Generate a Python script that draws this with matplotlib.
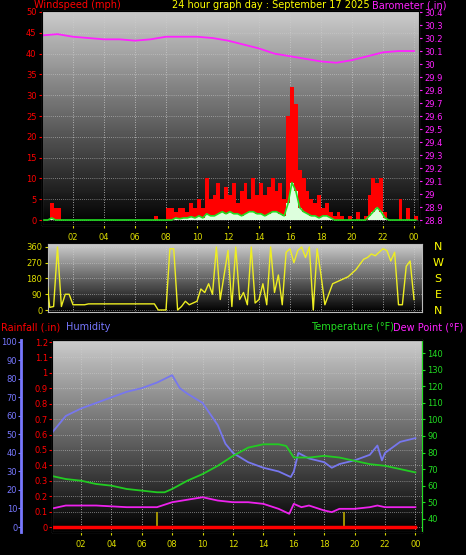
import numpy as np
import matplotlib
matplotlib.use("Agg")
import matplotlib.pyplot as plt

W, H = 466, 555
# ---------------- data ----------------
baro_h = [0,1,2,3,4,5,6,7,8,9,10,11,12,13,14,15,16,17,18,19,20,21,22,23,24]
baro = [30.22,30.23,30.21,30.20,30.19,30.19,30.18,30.19,30.21,30.21,30.21,30.20,30.18,30.15,30.12,30.08,30.06,30.04,30.02,30.01,30.03,30.06,30.09,30.10,30.10]

gust = [0,0,4,3, 3,0,0,0] + [0]*20 + [0,1,0,0, 3,3,2,3, 3,2,4,3, 5,3,10,5, 6,9,5,8, 6,9,4,7,
        9,5,10,6, 9,6,8,10, 7,9,5,25, 32,28,12,10, 7,5,4,6, 3,4,2,1, 2,1,0,1, 0,2,0,1,
        6,10,9,10, 2,0,0,0, 5,0,3,0, 1]
avg = [0,0,0.5,0, 0,0,0,0] + [0]*20 + [0,0,0,0, 0,0,0.5,0.3, 0.5,0.5,0.8,0.5, 1,0.5,1.5,1,
       1,1.5,2,1.5, 2,1.5,1.5,1, 1.5,2,2,1.5, 1.5,1,1.5,2, 2,1.5,1,4, 9,7,3,2, 1.5,1,1,0.5,
       1,1,0.5,0, 0,0,0,0, 0,0,0,0, 1,2,3,2, 0.5,0,0,0, 0,0,0,0, 0]

wdir = [215,215,15,20, 360,20,90,90, 30,30,30,30, 35,35,35,35, 35,35,35,35, 35,35,35,35,
        35,35,35,35, 35,35,0,0, 0,350,350,0, 20,50,30,40, 50,120,100,150, 90,360,60,200,
        340,20,360,60, 100,30,360,40, 60,150,30,360, 100,200,30,330, 350,270,340,360,
        300,360,0,350, 200,30,90,150, 160,170,180,190, 210,230,260,290, 300,320,310,330,
        350,340,280,330, 30,30,250,280, 60]

hum_h = [0,0.5,1,2,3,4,5,6,7,7.5,8,8.5,9,10,11,11.5,12,13,14,15,15.8,16,16.3,17,18,18.5,19,20,21,21.5,21.8,22,23,24]
hum = [50,55,60,64,67,70,73,75,78,80,82,75,72,67,55,45,40,35,32,30,27,30,40,37,35,32,34,36,39,44,36,40,46,48]
temp_h = [0,1,2,3,4,5,6,7,7.5,8,9,10,11,12,13,14,15,15.5,16,17,18,19,20,21,22,23,24]
temp = [66,64,63,61,60,58,57,56,56,58,63,67,72,78,83,85,85,84,77,77,78,77,75,73,72,70,68]
dew_h = [0,0.5,1,3,5,7,8,10,11,12,13,14,15,15.7,16,16.5,17,18,18.5,19,20,21,21.5,22,24]
dew = [46,47,48,48,47,47,50,53,51,50,50,49,46,43,49,47,48,45,44,46,46,47,48,47,47]
rain_h = [0,24]
rain = [0,0]
mark_h = [7.0,19.3]
hour_ticks = list(range(2,25,2))
hour_labels = ["%02d" % (h % 24) for h in hour_ticks]

fig = plt.figure(figsize=(W/100, H/100), dpi=100, facecolor="black")
FS = 6
TF = 7

def add(l, t, r, b):
    return fig.add_axes([l/W, 1-b/H, (r-l)/W, (b-t)/H])

def grad(ax):
    g = np.linspace(0.8, 0.0, 100).reshape(-1, 1)
    ax.imshow(g, cmap="gray", vmin=0, vmax=1, aspect="auto", extent=[0,1,0,1],
              transform=ax.transAxes, zorder=0)

def style(ax, grid_y):
    ax.set_facecolor("black")
    for s in ax.spines.values():
        s.set_color("#bbbbbb")
    for h in hour_ticks:
        ax.axvline(h, color="#cccccc", lw=0.6, ls=(0,(1,2)), zorder=1)
    for y in grid_y:
        ax.axhline(y, color="#cccccc", lw=0.5, ls=(0,(1,2)), zorder=1)

# ---------- top panel ----------
ax = add(42, 11, 419, 225)
grad(ax)
t = np.arange(len(gust)) * 0.25
ax.bar(t, gust, width=0.25, color="red", align="edge", zorder=2)
ax.bar(t, avg, width=0.25, color="#ddffdd", align="edge", zorder=3)
ax.plot(t + 0.125, avg, color="#22dd22", lw=1.2, zorder=4)
ax.set_xlim(0, (419-42)/15.5)
ax.set_ylim(-1.2, 50.24)
ax.set_yticks(range(0, 51, 5))
ax.tick_params(axis="y", colors="red", labelsize=FS, length=2, pad=2)
ax.set_xticks(hour_ticks)
ax.set_xticklabels(hour_labels)
ax.tick_params(axis="x", colors="#dddd00", labelsize=FS, length=2)
style(ax, range(0, 51, 5))
ax2 = ax.twinx()
ax2.plot(baro_h, baro, color="#ff22ff", lw=1.3)
ax2.set_ylim(28.762, 30.408)
bt = np.round(np.arange(28.8, 30.41, 0.1), 1)
ax2.set_yticks(bt)
ax2.set_yticklabels([("%g" % v) for v in bt])
ax2.tick_params(axis="y", colors="#ff22ff", labelsize=FS, length=2, pad=2)
fig.text(34/W, 1-5/H, "Windspeed (mph)", color="red", fontsize=TF, va="center")
fig.text(172/W, 1-5/H, "24 hour graph day : September 17 2025", color="yellow", fontsize=TF, va="center")
fig.text(372/W, 1-5/H, "Barometer (.in)", color="#ff22ff", fontsize=TF, va="center")

# ---------- middle panel ----------
axm = add(48, 244, 422, 312)
grad(axm)
td = np.arange(len(wdir)) * 0.25
axm.plot(td, wdir, color="#eeee22", lw=1.0, zorder=3)
axm.set_xlim((48-42)/15.5, (422-42)/15.5)
axm.set_ylim(-11.4, 377)
axm.set_yticks([0, 90, 180, 270, 360])
axm.tick_params(axis="y", colors="#dddd00", labelsize=FS, length=2, pad=2)
axm.set_xticks([])
style(axm, [0, 90, 180, 270, 360])
for lab, y in zip("NWSEN", [247, 263, 279, 295, 311]):
    fig.text(438/W, 1-y/H, lab, color="yellow", fontsize=8, ha="center", va="center")

# ---------- bottom panel ----------
axb = add(52, 340, 422, 532)
grad(axb)
axb.set_xlim((52-50.6)/15.2, (422-50.6)/15.2)
axb.set_ylim(-0.032, 1.213)
axb.plot(rain_h, rain, color="red", lw=2.5, zorder=5)
axb.vlines(mark_h, 0, 0.1, color="#bbaa00", lw=1.2, zorder=4)
rt = np.round(np.arange(0, 1.21, 0.1), 1)
axb.set_yticks(rt)
axb.set_yticklabels(["%g" % v for v in rt])
axb.tick_params(axis="y", colors="red", labelsize=FS, length=2, pad=1)
axb.spines["left"].set_color("red")
axb.set_xticks(hour_ticks)
axb.set_xticklabels(hour_labels)
axb.tick_params(axis="x", colors="#dddd00", labelsize=FS, length=2)
style(axb, rt)
axh = axb.twinx()
axh.yaxis.set_label_position("left")
axh.yaxis.tick_left()
axh.spines["left"].set_position(("outward", 22))
axh.spines["left"].set_color("#7777ff")
axh.spines["left"].set_linewidth(2)
axh.plot(hum_h, hum, color="#7777ee", lw=1.3)
axh.set_ylim(-2.7, 101)
axh.set_yticks(range(0, 101, 10))
axh.tick_params(axis="y", colors="#7777ff", labelsize=FS, length=2, pad=1)
axt = axb.twinx()
axt.plot(temp_h, temp, color="#22cc22", lw=1.3)
axt.plot(dew_h, dew, color="#ee22ee", lw=1.3)
axt.set_ylim(32, 148)
axt.set_yticks(range(40, 141, 10))
axt.tick_params(axis="y", colors="#22dd22", labelsize=FS, length=2, pad=2)
axt.spines["right"].set_color("#22dd22")
for a in (axh, axt):
    a.set_xlim(axb.get_xlim())
fig.text(1/W, 1-327/H, "Rainfall (.in)", color="red", fontsize=TF, va="center")
fig.text(66/W, 1-327/H, "Humidity", color="#7777ff", fontsize=TF, va="center")
fig.text(311/W, 1-327/H, "Temperature (°F)", color="#22dd22", fontsize=TF, va="center")
fig.text(393/W, 1-327/H, "Dew Point (°F)", color="#ff22ff", fontsize=TF, va="center")

fig.savefig("out.png", dpi=100, facecolor="black")
